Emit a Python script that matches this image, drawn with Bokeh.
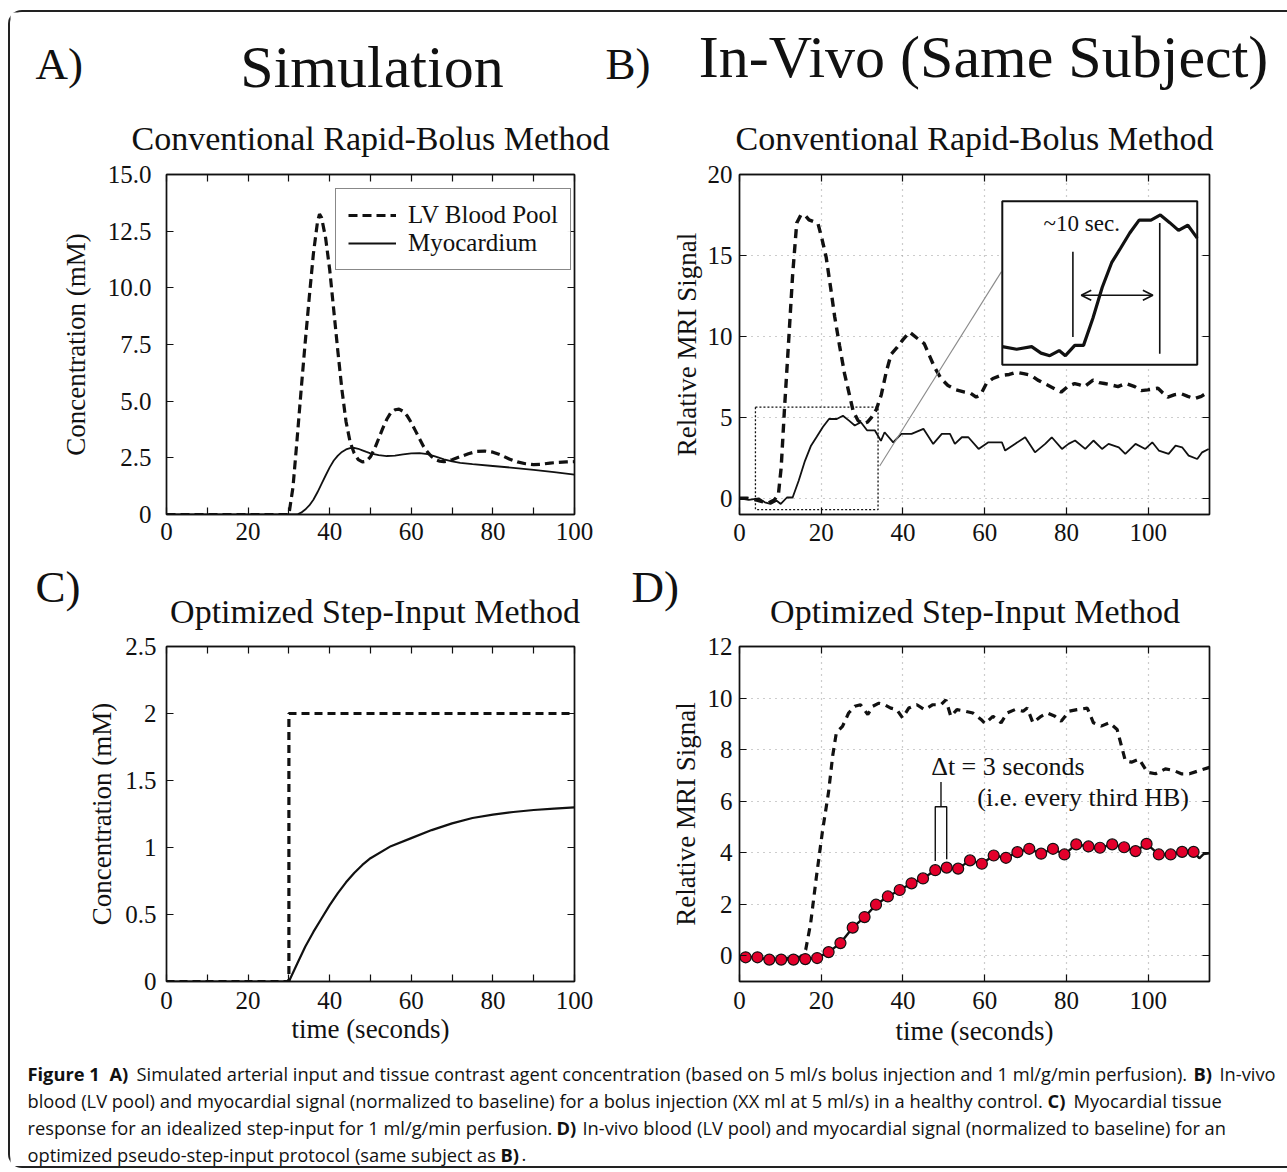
from bokeh.plotting import figure
from bokeh.layouts import column, row
from bokeh.models import (Range1d, LinearAxis, FixedTicker, CustomJSTickFormatter,
                          Legend, LegendItem, Arrow, OpenHead)
from bokeh.core.properties import value
from bokeh.embed import file_html
from bokeh.resources import INLINE

# ---------------- data ----------------
# A) simulation, rapid bolus
A_LV_T = [0, 29, 30, 31, 32, 33, 34, 35, 36, 37, 37.5, 38, 39, 40, 41, 42, 43, 44, 45, 46,
          47, 48, 49, 50, 51, 52, 53, 54, 55, 56, 57, 58, 59, 60, 61, 62, 63, 64, 65, 66,
          67, 68, 69, 70, 72, 74, 76, 78, 80, 82, 84, 86, 88, 90, 92, 94, 96, 98, 100]
A_LV = [0, 0, 0, 1.2, 3.3, 5.5, 7.6, 9.6, 11.5, 12.9, 13.25, 13.1, 12.2, 10.8, 9.0, 7.2, 5.5, 4.1, 3.2, 2.7,
        2.42, 2.32, 2.35, 2.55, 2.9, 3.35, 3.8, 4.2, 4.5, 4.62, 4.65, 4.55, 4.35, 4.05, 3.7, 3.35, 3.0, 2.75, 2.55, 2.42,
        2.35, 2.33, 2.36, 2.42, 2.55, 2.68, 2.78, 2.8, 2.75, 2.62, 2.45, 2.32, 2.24, 2.2, 2.22, 2.27, 2.3, 2.32, 2.33]
A_MYO_T = [0, 32, 33, 34, 35, 36, 37, 38, 39, 40, 41, 42, 43, 44, 45, 46, 47, 48, 49, 50,
           52, 54, 56, 58, 60, 62, 64, 66, 68, 70, 72, 75, 80, 85, 90, 95, 100]
A_MYO = [0, 0, 0.08, 0.22, 0.4, 0.65, 0.98, 1.35, 1.72, 2.08, 2.38, 2.6, 2.76, 2.87, 2.93, 2.94, 2.9, 2.83, 2.76, 2.7,
         2.62, 2.58, 2.6, 2.65, 2.7, 2.71, 2.66, 2.55, 2.43, 2.34, 2.28, 2.22, 2.14, 2.06, 1.97, 1.87, 1.76]

# B) in vivo, rapid bolus
B_LV_T = [0, 2, 4, 5.5, 7, 8.5, 9.5, 10.2, 11, 12, 13, 14, 15, 16, 17, 18, 19.2, 20.2, 21.2, 22.3,
          23.3, 24.5, 25.7, 26.8, 27.8, 29, 30.2, 31.3, 32.3, 33.5, 34.7, 35.9, 37.1, 38.5, 40, 41.6, 43.4, 45.2, 46.5, 47.7,
          49.3, 51, 53, 55.1, 56.5, 57.9, 59, 60.4, 62, 64, 66, 67.7, 69.5, 71.4, 73, 74.6, 76.5, 78.7, 80.3, 82,
          83.3, 84.4, 86.5, 88, 89.3, 91, 92.6, 94.5, 96.7, 98.3, 99.9, 102.4, 103.6, 104.8, 106.5, 108.1, 109.7, 111.3, 113, 114.6,
          115.2]
B_LV = [0, 0, -0.1, -0.2, -0.3, -0.1, 0.2, 1.9, 5.5, 9.6, 13.8, 17.0, 17.5, 17.5, 17.2, 17.1, 16.97, 16.0, 14.9, 13.0,
        11.2, 9.4, 7.7, 6.5, 5.4, 4.8, 4.6, 4.7, 5.0, 5.5, 6.4, 7.8, 8.9, 9.3, 9.8, 10.27, 9.9, 9.55, 8.8, 8.1,
        7.4, 6.97, 6.7, 6.56, 6.5, 6.25, 6.4, 7.09, 7.4, 7.59, 7.65, 7.79, 7.7, 7.59, 7.3, 7.09, 6.85, 6.56, 6.9, 7.09,
        7.0, 6.9, 7.3, 7.15, 7.09, 7.0, 6.9, 7.1, 6.9, 6.65, 6.7, 6.8, 6.5, 6.25, 6.4, 6.46, 6.3, 6.15, 6.3, 6.56,
        6.6]
B_MYO_T = [0, 2.3, 4.7, 6.2, 7.6, 9.1, 10.1, 11.6, 13.0, 14.5, 16.0, 17.5, 18.9, 20.4, 21.9, 23.8, 25.3, 26.8, 28.2, 29.7,
           31.2, 33.1, 34.6, 35.5, 37.6, 39.6, 42.1, 45.0, 47.4, 49.5, 51.5, 52.7, 54.4, 56.0, 58.5, 60.9, 64.2, 65.0, 67.4, 69.9,
           72.3, 74.8, 76.4, 78.9, 80.5, 82.1, 84.6, 86.6, 88.7, 90.3, 92.8, 94.4, 96.9, 99.3, 101.0, 102.6, 105.0, 106.7, 108.3, 109.9,
           112.0, 113.2, 114.8]
B_MYO = [0, -0.1, 0, -0.25, -0.35, -0.15, -0.35, 0.05, 0.05, 1.1, 2.3, 3.25, 3.8, 4.4, 4.9, 4.9, 5.1, 4.8, 4.5, 4.7,
         4.2, 4.2, 3.55, 4.08, 3.46, 3.98, 3.98, 4.29, 3.36, 3.98, 3.98, 3.36, 3.77, 3.77, 3.05, 3.46, 3.46, 2.95, 3.36, 3.77,
         2.84, 3.36, 3.77, 3.05, 3.36, 3.57, 3.05, 3.57, 3.05, 3.36, 3.15, 2.74, 3.36, 3.05, 3.46, 2.95, 2.74, 3.25, 3.15, 2.64,
         2.43, 2.84, 3.05]

# C) simulation, step input
C_LV_T = [0, 30, 30, 100]
C_LV = [0, 0, 2.0, 2.0]
C_MYO_T = [0, 30, 32, 34, 36, 38, 40, 42, 44, 46, 48, 50, 55, 60, 65, 70, 75, 80, 85, 90, 95, 100]
C_MYO = [0, 0, 0.13, 0.26, 0.37, 0.47, 0.57, 0.66, 0.74, 0.81, 0.87, 0.92, 1.01, 1.07, 1.13, 1.18, 1.22, 1.245, 1.265, 1.28, 1.29, 1.3]

# D) in vivo, step input
D_LV_T = [0, 4, 8, 12, 15, 16.2, 17.4, 18.8, 20.3, 21.8, 22.8, 23.7, 25.2, 26.7, 28.2, 29.6, 31.4, 32.6, 34.1, 35.5,
          37, 38.5, 39.9, 41.4, 43.4, 45.3, 47.3, 49.3, 50.5, 51.7, 53.2, 55.2, 57.1, 59.1, 60.1, 62, 64, 65.5, 67.4, 69.4,
          70.4, 71.8, 73.8, 75.3, 77.2, 78.7, 80.7, 82.6, 85.1, 86.6, 88.5, 90.5, 92.4, 94.4, 95.9, 97.8, 99.8, 101.8, 104.2, 106.2,
          108.1, 110.1, 112.6, 115]
D_LV = [-0.05, -0.1, -0.1, -0.1, -0.05, 0.23, 1.25, 3.04, 4.83, 6.36, 7.76, 8.66, 8.9, 9.42, 9.68, 9.74, 9.36, 9.68, 9.8, 9.74,
        9.61, 9.55, 9.23, 9.61, 9.74, 9.55, 9.74, 9.74, 9.93, 9.29, 9.55, 9.49, 9.42, 9.17, 9.01, 9.29, 9.04, 9.42, 9.55, 9.49,
        9.61, 9.04, 9.29, 9.42, 9.29, 9.1, 9.49, 9.55, 9.61, 9.04, 8.91, 9.04, 8.78, 7.57, 7.51, 7.63, 7.12, 7.06, 7.25, 7.19,
        7.06, 7.06, 7.19, 7.31]
D_DOT_T = [1.5, 4.4, 7.3, 10.2, 13.2, 16.1, 19.0, 21.8, 24.7, 27.7, 30.6, 33.4, 36.3, 39.2, 42.1, 44.9, 47.9, 50.7, 53.5, 56.4,
           59.3, 62.2, 65.2, 68.0, 70.9, 73.8, 76.7, 79.5, 82.4, 85.4, 88.2, 91.2, 94.1, 96.9, 99.6, 102.6, 105.5, 108.3, 111.1]
D_DOT = [-0.06, -0.06, -0.15, -0.15, -0.15, -0.13, -0.09, 0.14, 0.49, 1.09, 1.5, 1.98, 2.3, 2.55, 2.81, 3.0, 3.32, 3.42, 3.38, 3.7,
         3.57, 3.89, 3.8, 4.02, 4.15, 3.96, 4.15, 3.93, 4.32, 4.24, 4.19, 4.32, 4.21, 4.06, 4.34, 3.93, 3.93, 4.03, 4.03]
D_EDGE_T = [0.3, 112.5, 113.6, 115]      # line ends outside the sampled dots
D_EDGE = [-0.05, 3.78, 3.95, 3.97]

A_X_TICKS = [0, 20, 40, 60, 80, 100]
A_X_MINOR = [10, 30, 50, 70, 90]
A_Y_TICKS = [0, 2.5, 5, 7.5, 10, 12.5, 15]
C_Y_TICKS = [0, 0.5, 1, 1.5, 2, 2.5]
B_X_TICKS = [0, 20, 40, 60, 80, 100]
B_Y_TICKS = [0, 5, 10, 15, 20]
D_Y_TICKS = [0, 2, 4, 6, 8, 10, 12]

# ---------------- styling ----------------
SERIF = "Liberation Serif"
SANS = "Open Sans"
INK = "#111111"
RED = "#e3002b"
TICK_PX = "25px"
LAB_PX = "27px"
BASE_SHIFT = 0.36   # text anchor correction (fraction of font size)


def txt(p, x, y, s, size, font=SERIF, align="left", style="normal", unit_px=None, **kw):
    # unit_px: pixels per data unit (y) when y is in data units; None -> y is page pixels (inverted range)
    if unit_px is None:
        yy = y - BASE_SHIFT * size
    else:
        yy = y + BASE_SHIFT * size / unit_px
    p.text(x=[x], y=[yy], text=[s], text_font=value(font), text_font_size=value(f"{size}px"),
           text_align=align, text_baseline="alphabetic", text_color=INK, text_font_style=style, **kw)


def blank(width, height, x0, x1, ytop, ybot):
    p = figure(width=width, height=height, x_range=Range1d(x0, x1), y_range=Range1d(ybot, ytop),
               toolbar_location=None, output_backend="svg", x_axis_type=None, y_axis_type=None,
               min_border_left=0, min_border_right=0, min_border_top=0, min_border_bottom=0)
    p.outline_line_color = None
    p.background_fill_color = "white"
    p.border_fill_color = "white"
    return p


def blank_axis(ticks, minor):
    ax = LinearAxis(ticker=FixedTicker(ticks=ticks, minor_ticks=minor),
                    formatter=CustomJSTickFormatter(code="return ''"))
    ax.major_label_text_font_size = "0px"
    ax.major_label_standoff = 0
    return ax


def panel(width, height, borders, xr, yr, xt, xm, yt, ym, ylab, ylab_st, ytick_st, xtick_st,
          xlab=None, xlab_st=0, grid=False, yformat=None):
    left, right, top, bottom = borders
    p = figure(width=width, height=height, x_range=Range1d(*xr), y_range=Range1d(*yr),
               toolbar_location=None, output_backend="svg",
               min_border_left=left, min_border_right=right, min_border_top=top, min_border_bottom=bottom)
    p.background_fill_color = "white"
    p.border_fill_color = "white"
    p.outline_line_color = INK
    p.outline_line_width = 1.4
    xb, yl = p.below[0], p.left[0]
    xb.ticker = FixedTicker(ticks=xt, minor_ticks=xm)
    yl.ticker = FixedTicker(ticks=yt, minor_ticks=ym)
    if yformat:
        yl.formatter = CustomJSTickFormatter(code=yformat)
    p.add_layout(blank_axis(xt, xm), "above")
    p.add_layout(blank_axis(yt, ym), "right")
    for ax in p.axis:
        ax.axis_line_color = INK
        ax.axis_line_width = 1.4
        ax.major_tick_in = 7
        ax.major_tick_out = 0
        ax.minor_tick_in = 7
        ax.minor_tick_out = 0
        ax.major_tick_line_color = INK
        ax.minor_tick_line_color = INK
        ax.major_tick_line_width = 1.2
        ax.minor_tick_line_width = 1.2
    for ax in (xb, yl):
        ax.major_label_text_font = SERIF
        ax.major_label_text_font_size = TICK_PX
        ax.major_label_text_color = INK
    xb.major_label_standoff = xtick_st
    yl.major_label_standoff = ytick_st
    yl.axis_label = ylab
    yl.axis_label_standoff = ylab_st
    yl.axis_label_text_font = SERIF
    yl.axis_label_text_font_size = LAB_PX
    yl.axis_label_text_font_style = "normal"
    yl.axis_label_text_color = INK
    if xlab:
        xb.axis_label = xlab
        xb.axis_label_standoff = xlab_st
        xb.axis_label_text_font = SERIF
        xb.axis_label_text_font_size = LAB_PX
        xb.axis_label_text_font_style = "normal"
        xb.axis_label_text_color = INK
    if grid:
        p.xgrid.ticker = FixedTicker(ticks=xt)
        p.ygrid.ticker = FixedTicker(ticks=yt)
        p.grid.grid_line_color = "#9a9a9a"
        p.grid.grid_line_dash = "1 5"
        p.grid.grid_line_width = 1.2
    else:
        p.grid.visible = False
    return p


# ---------------- header ----------------
W_LEFT, W_RIGHT = 630, 647
header = blank(1277, 148, 10, 1287, 12, 160)
txt(header, 35, 80, "A)", 45)
txt(header, 371.5, 88, "Simulation", 60, align="center")
txt(header, 605, 80, "B)", 45)
txt(header, 983, 78, "In-Vivo (Same Subject)", 60, align="center")
txt(header, 370, 150, "Conventional Rapid-Bolus Method", 34, align="center")
txt(header, 974, 150, "Conventional Rapid-Bolus Method", 34, align="center")

# ---------------- panel A ----------------
pA = panel(W_LEFT, 395, (156, 66, 14, 40), (0, 100), (0, 15), A_X_TICKS, A_X_MINOR, A_Y_TICKS, [],
           "Concentration (mM)", 14, 15, 8,
           yformat="return tick == 0 ? '0' : tick.toFixed(1);")
rA_lv = pA.line(A_LV_T, A_LV, line_color=INK, line_width=3.2, line_dash="9 5")
rA_my = pA.line(A_MYO_T, A_MYO, line_color=INK, line_width=1.8)
legA = Legend(items=[LegendItem(label="LV Blood Pool", renderers=[rA_lv]),
                     LegendItem(label="Myocardium", renderers=[rA_my])],
              location=(169, 244))
legA.border_line_color = INK
legA.border_line_width = 1.5
legA.label_text_font = SERIF
legA.label_text_font_size = "25px"
legA.label_text_color = INK
legA.glyph_width = 48
legA.glyph_height = 20
legA.label_standoff = 12
legA.padding = 12
legA.spacing = 0
legA.margin = 0
pA.add_layout(legA)

# ---------------- panel B ----------------
B_XR, B_YR = (0, 115), (-1, 20)
pB = panel(W_RIGHT, 395, (99, 78, 14, 41), B_XR, B_YR, B_X_TICKS, [], B_Y_TICKS, [],
           "Relative MRI Signal", 3, 7, 9, grid=True)
pB.line(B_LV_T, B_LV, line_color=INK, line_width=3.4, line_dash="9 6")
pB.line(B_MYO_T, B_MYO, line_color=INK, line_width=1.8)

ZOOM_RECT = (3.9, 33.9, -0.7, 5.63)            # dotted region in data units
INSET_BOX = (64.3, 112.0, 8.25, 18.35)         # inset frame in data units
INSET_WIN = (0.0, 31.2, -0.7, 5.63)            # window shown in the inset
CONNECT = ((34.3, 2.0), (64.1, 14.0))

L, R, Bt, T = INSET_BOX
W0, W1, Y0, Y1 = INSET_WIN
bx = (W1 - W0) / (R - L)
by = (Y1 - Y0) / (T - Bt)
pB.extra_x_ranges = {"ix": Range1d(W0 - (L - B_XR[0]) * bx, W1 + (B_XR[1] - R) * bx)}
pB.extra_y_ranges = {"iy": Range1d(Y0 - (Bt - B_YR[0]) * by, Y1 + (B_YR[1] - T) * by)}
B_PX_Y = 340 / (B_YR[1] - B_YR[0])            # pixels per main y unit
INSET_PX_Y = B_PX_Y / by                       # pixels per inset y unit

pB.quad(left=[ZOOM_RECT[0]], right=[ZOOM_RECT[1]], bottom=[ZOOM_RECT[2]], top=[ZOOM_RECT[3]],
        fill_alpha=0, line_color=INK, line_width=1.3, line_dash="2 2")
pB.segment(x0=[CONNECT[0][0]], y0=[CONNECT[0][1]], x1=[CONNECT[1][0]], y1=[CONNECT[1][1]],
           line_color="#8a8a8a", line_width=1.1)
pB.quad(left=[L], right=[R], bottom=[Bt], top=[T], fill_color="white", line_color=INK, line_width=2)
win_t = [t for t in B_MYO_T if W0 <= t <= W1]
win_v = [v for t, v in zip(B_MYO_T, B_MYO) if W0 <= t <= W1]
pB.line(win_t, win_v, line_color=INK, line_width=3.2, x_range_name="ix", y_range_name="iy")
MARK_T = (11.3, 25.2)
pB.segment(x0=[MARK_T[0], MARK_T[1]], y0=[0.37, -0.27], x1=[MARK_T[0], MARK_T[1]], y1=[3.67, 4.79],
           line_color=INK, line_width=1.6, x_range_name="ix", y_range_name="iy")
pB.add_layout(Arrow(start=OpenHead(size=10, line_width=1.6, line_color=INK),
                    end=OpenHead(size=10, line_width=1.6, line_color=INK),
                    x_start=12.64, y_start=1.99, x_end=24.1, y_end=1.99,
                    line_width=1.6, line_color=INK, x_range_name="ix", y_range_name="iy"))
txt(pB, 12.72, 4.44, "~10 sec.", 23, align="center", unit_px=INSET_PX_Y,
    x_range_name="ix", y_range_name="iy")

# ---------------- mid labels ----------------
mid = blank(1277, 78, 10, 1287, 555, 633)
txt(mid, 35, 603, "C)", 45)
txt(mid, 631, 603, "D)", 45)
txt(mid, 374.5, 623, "Optimized Step-Input Method", 34, align="center")
txt(mid, 974.5, 623, "Optimized Step-Input Method", 34, align="center")

# ---------------- panel C ----------------
pC = panel(W_LEFT, 429, (156, 66, 11, 81), (0, 100), (0, 2.5), A_X_TICKS, A_X_MINOR, C_Y_TICKS, [],
           "Concentration (mM)", 5, 10, 10, xlab="time (seconds)", xlab_st=2)
pC.line(C_LV_T, C_LV, line_color=INK, line_width=3.2, line_dash="8 5")
pC.line(C_MYO_T, C_MYO, line_color=INK, line_width=2.2)

# ---------------- panel D ----------------
D_YR = (-1, 12)
pD = panel(W_RIGHT, 429, (99, 78, 13, 77), B_XR, D_YR, B_X_TICKS, [], D_Y_TICKS, [],
           "Relative MRI Signal", 4, 7, 10, xlab="time (seconds)", xlab_st=4, grid=True)
D_PX_Y = 339 / (D_YR[1] - D_YR[0])
pD.line(D_LV_T, D_LV, line_color=INK, line_width=3.2, line_dash="8 6")
line_t = D_EDGE_T[:1] + D_DOT_T + D_EDGE_T[1:]
line_v = D_EDGE[:1] + D_DOT + D_EDGE[1:]
pD.line(line_t, line_v, line_color=INK, line_width=2.4)
pD.scatter(D_DOT_T, D_DOT, size=11, fill_color=RED, line_color=INK, line_width=1.2)
i0, i1 = 16, 17            # two consecutive sampled beats, 3 s apart
pD.line([D_DOT_T[i0], D_DOT_T[i0], D_DOT_T[i1], D_DOT_T[i1]],
        [D_DOT[i0] + 0.36, 5.78, 5.78, D_DOT[i1] + 0.32], line_color=INK, line_width=1.4)
mid_t = (D_DOT_T[i0] + D_DOT_T[i1]) / 2
pD.segment(x0=[mid_t], y0=[5.78], x1=[mid_t], y1=[6.74], line_color=INK, line_width=1.4)
txt(pD, 46.9, 7.0, "\u0394t = 3 seconds", 26, unit_px=D_PX_Y)
txt(pD, 58.2, 5.8, "(i.e. every third HB)", 26, unit_px=D_PX_Y)

# ---------------- caption ----------------
cap = blank(1277, 104, 10, 1287, 1062, 1166)
CAP_PX = 18.3
CAPTION = [
    (27, 1080, "Figure 1", True), (109, 1080, "A)", True),
    (136, 1080, "Simulated arterial input and tissue contrast agent concentration (based on 5 ml/s bolus injection and 1 ml/g/min perfusion).", False),
    (1193, 1080, "B)", True), (1219, 1080, "In-vivo", False),
    (27, 1107, "blood (LV pool) and myocardial signal (normalized to baseline) for a bolus injection (XX ml at 5 ml/s) in a healthy control.", False),
    (1047, 1107, "C)", True), (1073, 1107, "Myocardial tissue", False),
    (27, 1134, "response for an idealized step-input for 1 ml/g/min perfusion.", False),
    (556, 1134, "D)", True), (582, 1134, "In-vivo blood (LV pool) and myocardial signal (normalized to baseline) for an", False),
    (27, 1161, "optimized pseudo-step-input protocol (same subject as", False),
    (500, 1161, "B)", True), (521, 1161, ".", False),
]
for x, y, s, b in CAPTION:
    txt(cap, x, y, s, CAP_PX, font=SANS, style="bold" if b else "normal")

layout = column(header, row(pA, pB), mid, row(pC, pD), cap,
                styles={"margin-left": "8px", "margin-top": "10px",
                        "border-left": "2px solid #222", "border-top": "2px solid #222",
                        "border-bottom": "2px solid #222", "border-top-left-radius": "14px",
                        "border-bottom-left-radius": "14px"})

open("out.html", "w").write(file_html(layout, INLINE))
